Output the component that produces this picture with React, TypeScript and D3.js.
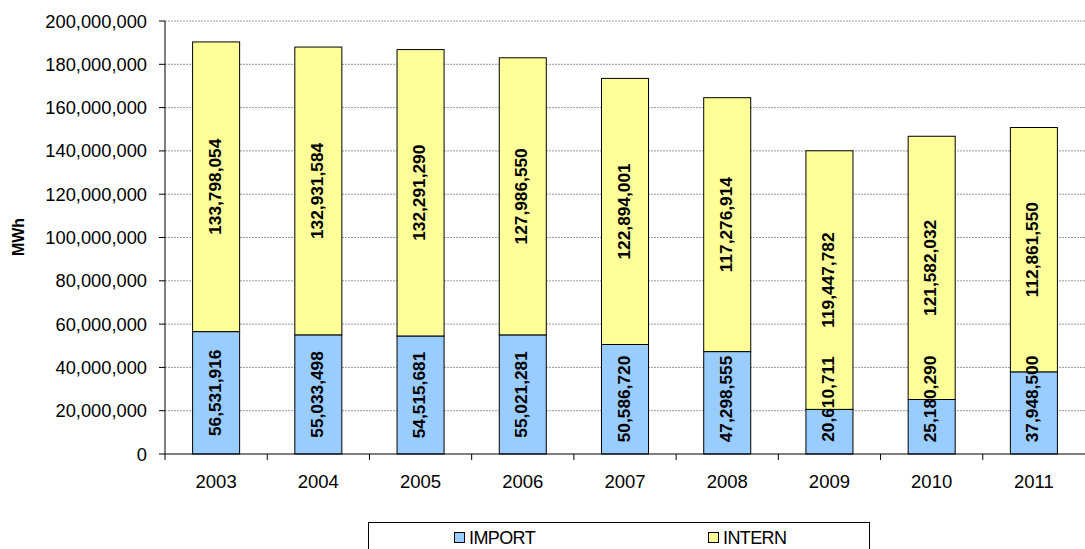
import React from "react";
import * as d3 from "d3";

const years = ["2003", "2004", "2005", "2006", "2007", "2008", "2009", "2010", "2011"];
const importValues = [56531916, 55033498, 54515681, 55021281, 50586720, 47298555, 20610711, 25180290, 37948500];
const internValues = [133798054, 132931584, 132291290, 127986550, 122894001, 117276914, 119447782, 121582032, 112861550];
const yTicks = [0, 20000000, 40000000, 60000000, 80000000, 100000000, 120000000, 140000000, 160000000, 180000000, 200000000];
const seriesNames = ["IMPORT", "INTERN"];
const seriesColors = ["#99CCFF", "#FFFF99"];

const W = 1085;
const H = 549;
const left = 165;
const right = 1085;
const top = 21;
const bottom = 454;
const FONT = "Arial, 'Liberation Sans', sans-serif";

export default function App() {
  const x = d3.scaleBand<string>().domain(years).range([left, right]).paddingInner(0.54).paddingOuter(0.27);
  const y = d3.scaleLinear().domain([0, 200000000]).range([bottom, top]);
  const fmt = d3.format(",");
  const band = (right - left) / years.length;

  const rows = years.map((yr, i) => ({ year: yr, IMPORT: importValues[i], INTERN: internValues[i] }));
  const stacked = d3.stack<any>().keys(seriesNames)(rows);

  // keep value labels inside the plot area when a segment is too short
  const labelHalf = 43;
  const maxCenter = bottom - 12 - labelHalf;

  return (
    <svg width={W} height={H} style={{ position: "absolute", left: 0, top: 0, background: "#fff" }} fontFamily={FONT}>
      {/* horizontal gridlines */}
      {yTicks.filter((t) => t > 0).map((t) => (
        <line key={"g" + t} x1={left} x2={right} y1={y(t)} y2={y(t)} stroke="#9a9a9a" strokeWidth={1} strokeDasharray="2,1" />
      ))}
      {/* y axis */}
      <line x1={left} x2={left} y1={top} y2={bottom} stroke="#000" />
      {yTicks.map((t) => (
        <g key={"t" + t}>
          <line x1={left - 6} x2={left} y1={y(t)} y2={y(t)} stroke="#000" />
          <text x={147} y={y(t)} dy="0.36em" textAnchor="end" fontSize={18.3} fill="#000">
            {fmt(t)}
          </text>
        </g>
      ))}
      <text transform={`translate(24,237) rotate(-90)`} textAnchor="middle" fontSize={16} fontWeight="bold">
        MWh
      </text>
      {/* bars */}
      {stacked.map((s, si) => (
        <g key={s.key}>
          {s.map((d, i) => {
            const x0 = x(years[i])!;
            const y0 = y(d[1]);
            const y1 = y(d[0]);
            return (
              <rect key={i} x={x0} y={y0} width={x.bandwidth()} height={y1 - y0} fill={seriesColors[si]} stroke="#000" strokeWidth={1} />
            );
          })}
        </g>
      ))}
      {/* value labels */}
      {stacked.map((s) => (
        <g key={"l" + s.key}>
          {s.map((d, i) => {
            const cx = x(years[i])! + x.bandwidth() / 2;
            const cy = Math.min((y(d[0]) + y(d[1])) / 2, maxCenter);
            return (
              <text key={i} transform={`translate(${cx + 4.5},${cy}) rotate(-90)`} textAnchor="middle" fontSize={17.3} fontWeight="bold" fill="#000">
                {fmt(d[1] - d[0])}
              </text>
            );
          })}
        </g>
      ))}
      {/* x axis */}
      <line x1={left} x2={right} y1={bottom} y2={bottom} stroke="#000" />
      {years.map((yr, i) => (
        <line key={"xt" + i} x1={left + band * i} x2={left + band * i} y1={bottom} y2={bottom + 6} stroke="#000" />
      ))}
      {years.map((yr) => (
        <text key={"xl" + yr} x={x(yr)! + x.bandwidth() / 2} y={488} textAnchor="middle" fontSize={18.5}>
          {yr}
        </text>
      ))}
      {/* legend */}
      <rect x={368.5} y={522.5} width={501} height={40} fill="#fff" stroke="#000" />
      {seriesNames.map((n, i) => {
        const lx = i === 0 ? 454 : 708;
        return (
          <g key={"lg" + n}>
            <rect x={lx + 0.5} y={532.5} width={10} height={10} fill={seriesColors[i]} stroke="#000" />
            <text x={lx + 15} y={544} fontSize={18} letterSpacing={-0.6}>
              {n}
            </text>
          </g>
        );
      })}
    </svg>
  );
}
